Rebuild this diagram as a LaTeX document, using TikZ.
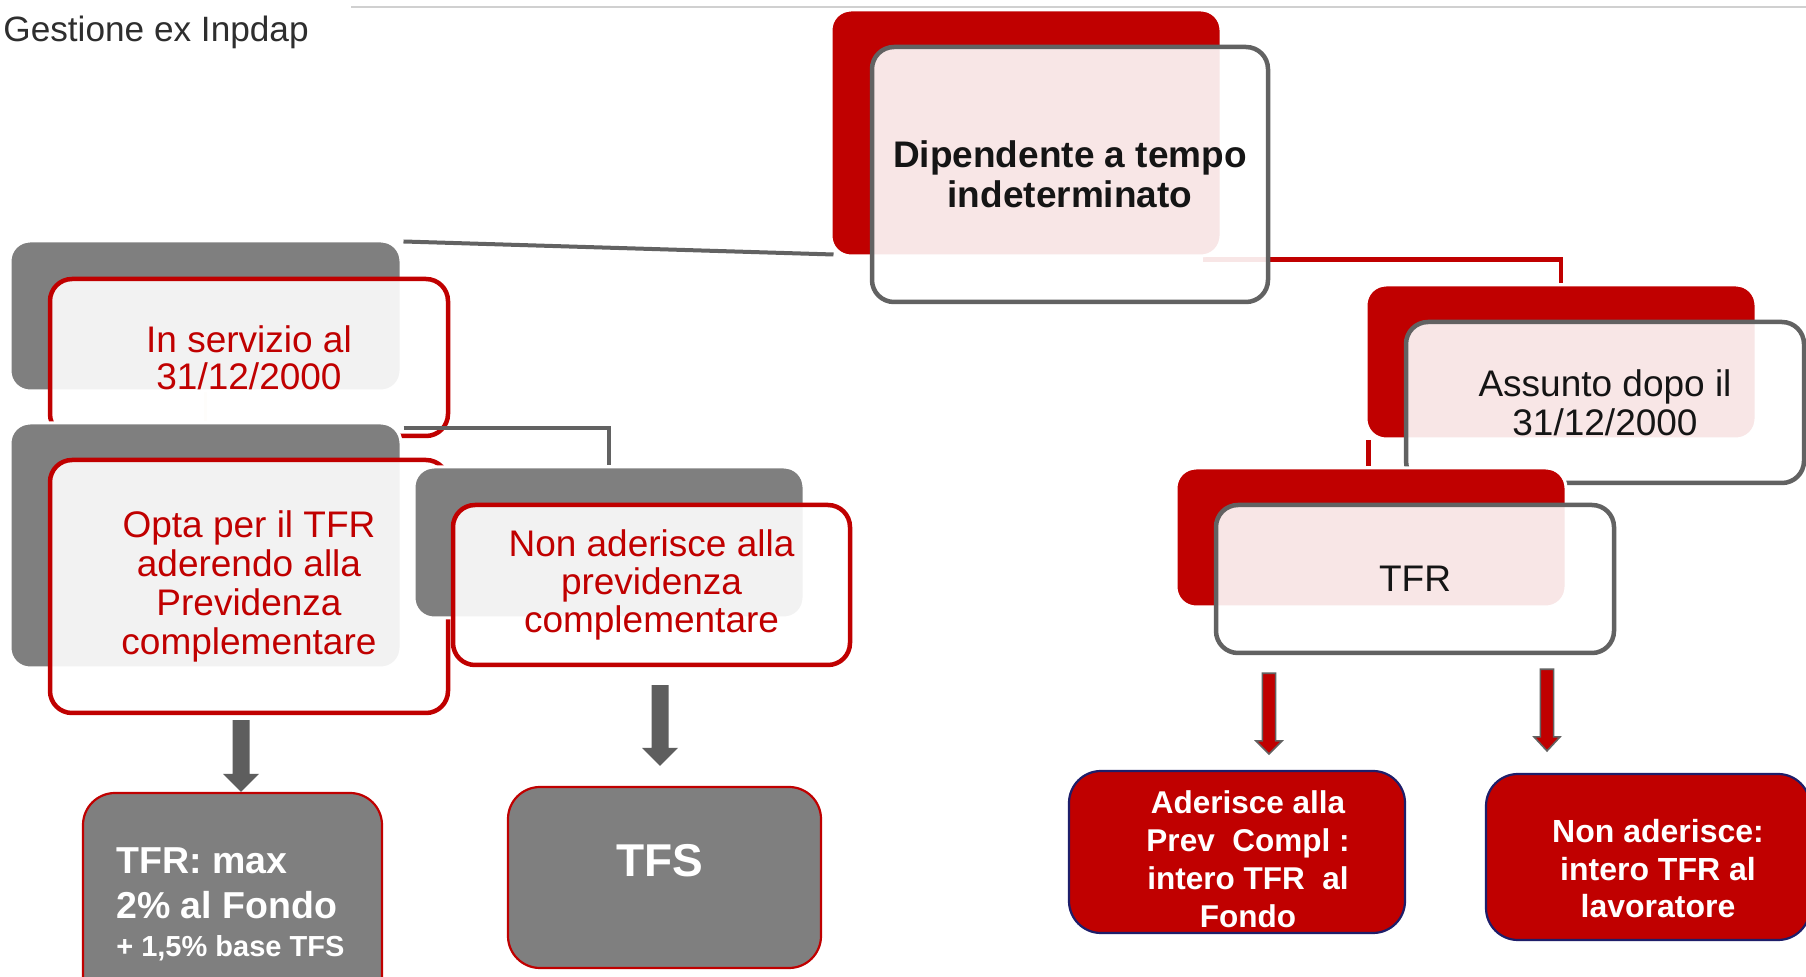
\documentclass[tikz,border=0pt]{standalone}
\usepackage{fontspec}
\setmainfont{Liberation Sans}
\usetikzlibrary{calc}

\definecolor{cRed}{HTML}{C00000}
\definecolor{cBack}{HTML}{7F7F7F}
\definecolor{cLine}{HTML}{626262}
\definecolor{cArrow}{HTML}{5E5E5E}
\definecolor{cNavy}{HTML}{1E1E6A}
\definecolor{cTitle}{HTML}{2E2E2E}
\definecolor{cRule}{HTML}{D0D0D0}
\definecolor{cFaint}{HTML}{F8EBDD}
\definecolor{cInk}{HTML}{151515}

\newcommand{\fs}[2]{\fontsize{#1}{#2}\selectfont}

% vertical block arrow: style, start (top centre), tip, shaft half-width, head half-width, head length
\newcommand{\blockarrow}[6]{%
  \path[#1] let \p1=(#2), \p2=(#3) in
    (\x1-#4,\y1) -- (\x1+#4,\y1) -- (\x1+#4,\y2+#6) -- (\x1+#5,\y2+#6)
    -- (\x1,\y2) -- (\x1-#5,\y2+#6) -- (\x1-#4,\y2+#6) -- cycle;}

\tikzset{
  box/.style={rectangle, inner sep=0pt},
  redback/.style={box, rounded corners=10pt, fill=cRed, draw=white, line width=1.5pt},
  grayback/.style={box, rounded corners=10pt, fill=cBack, draw=white, line width=1.5pt},
  front/.style={box, rounded corners=11pt, fill=white, fill opacity=0.9, text opacity=1,
                line width=2.25pt, align=center},
  frontgray/.style={front, draw=cLine, text=cInk},
  frontred/.style={front, draw=cRed, text=cRed},
  leafgray/.style={box, rounded corners=16pt, fill=cBack, draw=cRed, line width=1.1pt},
  leafred/.style={box, rounded corners=16pt, fill=cRed, draw=cNavy, line width=1.1pt},
  leaftext/.style={text=white, inner sep=0pt},
  conngray/.style={draw=cLine, line width=2pt},
  connred/.style={draw=cRed, line width=2.25pt},
  connfaint/.style={draw=cFaint, line width=1.5pt},
  grayarrow/.style={fill=cArrow},
  redarrow/.style={fill=cRed, draw=cLine, line width=0.8pt},
}

\begin{document}
\begin{tikzpicture}[x=0.5pt, y=-0.5pt]
\useasboundingbox (0,0) rectangle (1806,977);
\fill[white] (0,0) rectangle (1806,977);
\clip (0,0) rectangle (1806,977);

% heading and rule
\node[anchor=base west, text=cTitle, font=\fs{17.6}{20}, inner sep=0pt] (title) at (3,42) {Gestione ex Inpdap};
\draw[cRule, line width=1pt] (351,7) -- (1806,7);

% node geometry (declared first so that connectors can run underneath)
\path
  (1026,133)   node[redback, minimum width=195pt, minimum height=123pt] (topB) {}
  (1561,362)   node[redback, minimum width=195pt, minimum height=77pt] (asB) {}
  (1371,537.5) node[redback, minimum width=195pt, minimum height=69.5pt] (tfB) {}
  (205.5,316)  node[grayback, minimum width=195.5pt, minimum height=75pt] (isB) {}
  (205.5,545.5) node[grayback, minimum width=195.5pt, minimum height=122.5pt] (opB) {}
  (609,542.5)  node[grayback, minimum width=195pt, minimum height=75.5pt] (naB) {};

% connectors
\draw[conngray] ($(isB.north east)+(1,2)$) -- ($(topB.south west)+(4,-3)$);
\draw[connred] ($(topB.south east)+(-20,2)$) -| (asB.north);
\coordinate (asL) at ($(asB.south west)+(4,0)$);
\draw[connred] (asL) -- (asL |- tfB.north);
\draw[connfaint] (isB.south) -- (opB.north);

% left branch
\node[grayback, minimum width=195.5pt, minimum height=75pt] at (isB) {};
\node[frontred, minimum width=199pt, minimum height=78.5pt, font=\fs{18.5}{18.5}] (isF) at (249,357.5)
  {In servizio al\\31/12/2000};
\draw[conngray] ($(isB.south east)+(1,36)$) -| (naB.north);
\node[grayback, minimum width=195.5pt, minimum height=122.5pt] at (opB) {};
\node[frontred, minimum width=199pt, minimum height=126.5pt, font=\fs{18.5}{19.5}] (opF) at (249,586.5)
  {Opta per il TFR\\aderendo alla\\Previdenza\\complementare};
\node[grayback, minimum width=195pt, minimum height=75.5pt] at (naB) {};
\node[frontred, minimum width=198.5pt, minimum height=80pt, font=\fs{18.5}{19}] (naF) at (651.5,585)
  {Non aderisce alla\\previdenza\\complementare};

% top and right branch
\node[redback, minimum width=195pt, minimum height=123pt] at (topB) {};
\node[frontgray, minimum width=198pt, minimum height=127.5pt, font=\bfseries\fs{18.5}{20}] (topF) at (1070,174.5)
  {Dipendente a tempo\\indeterminato};
\node[redback, minimum width=195pt, minimum height=77pt] at (asB) {};
\node[frontgray, minimum width=199pt, minimum height=80.5pt, font=\fs{18.5}{19.5}] (asF) at (1605,402.5)
  {Assunto dopo il\\31/12/2000};
\node[redback, minimum width=195pt, minimum height=69.5pt] at (tfB) {};
\node[frontgray, minimum width=199pt, minimum height=74pt, font=\fs{18.5}{19.5}] (tfF) at (1415,579) {TFR};

% outcomes
\node[leafgray, minimum width=149.5pt, minimum height=108.5pt] (tfrmax) at (232.5,901.5) {};
\node[leaftext, anchor=base west, font=\bfseries\fs{18.75}{20}] (tfrmaxA) at ($(tfrmax.north west)+(34,82)$) {TFR: max};
\node[leaftext, anchor=base west, font=\bfseries\fs{18.75}{20}] (tfrmaxB) at ($(tfrmax.north west)+(34,127)$) {2\% al Fondo};
\node[leaftext, anchor=base west, font=\bfseries\fs{14.5}{16}] (tfrmaxC) at ($(tfrmax.north west)+(34,165)$) {+ 1,5\% base TFS};
\node[leafgray, minimum width=156.5pt, minimum height=90.5pt] (tfs) at (664.5,877.5) {};
\node[leaftext, anchor=base, font=\bfseries\fs{23}{23}] (tfsT) at ($(tfs.north)+(-4.5,91)$) {TFS};
\node[leafred, minimum width=168pt, minimum height=81pt] (adr) at (1237,852) {};
\node[leaftext, align=center, font=\bfseries\fs{15.75}{19}] (adrT) at ($(adr.center)+(11,7)$)
  {Aderisce alla\\Prev\ \ Compl :\\intero TFR\ \ al\\Fondo};
\node[leafred, minimum width=162pt, minimum height=83pt] (nad) at (1648,857) {};
\node[leaftext, align=center, font=\bfseries\fs{16}{18.75}] (nadT) at ($(nad.center)+(10,12)$)
  {Non aderisce:\\intero TFR al\\lavoratore};

% block arrows
\coordinate (g1s) at ($(opF.south)+(-8,5)$);
\coordinate (g1e) at (g1s |- tfrmax.north);
\blockarrow{grayarrow}{g1s}{g1e}{4.25pt}{9pt}{9pt}
\coordinate (g2s) at ($(naF.south)+(8.5,18)$);
\coordinate (g2e) at ($(g2s |- tfs.north)+(0,-20)$);
\blockarrow{grayarrow}{g2s}{g2e}{4.25pt}{9pt}{9pt}
\coordinate (r1s) at ($(tfF.south)+(-146,18)$);
\coordinate (r1e) at ($(r1s |- adr.north)+(0,-16)$);
\blockarrow{redarrow}{r1s}{r1e}{3.3pt}{6.5pt}{6.5pt}
\coordinate (r2s) at ($(tfF.south)+(132,14)$);
\coordinate (r2e) at ($(r2s |- nad.north)+(0,-22)$);
\blockarrow{redarrow}{r2s}{r2e}{3.3pt}{6.5pt}{7pt}
\end{tikzpicture}
\end{document}
